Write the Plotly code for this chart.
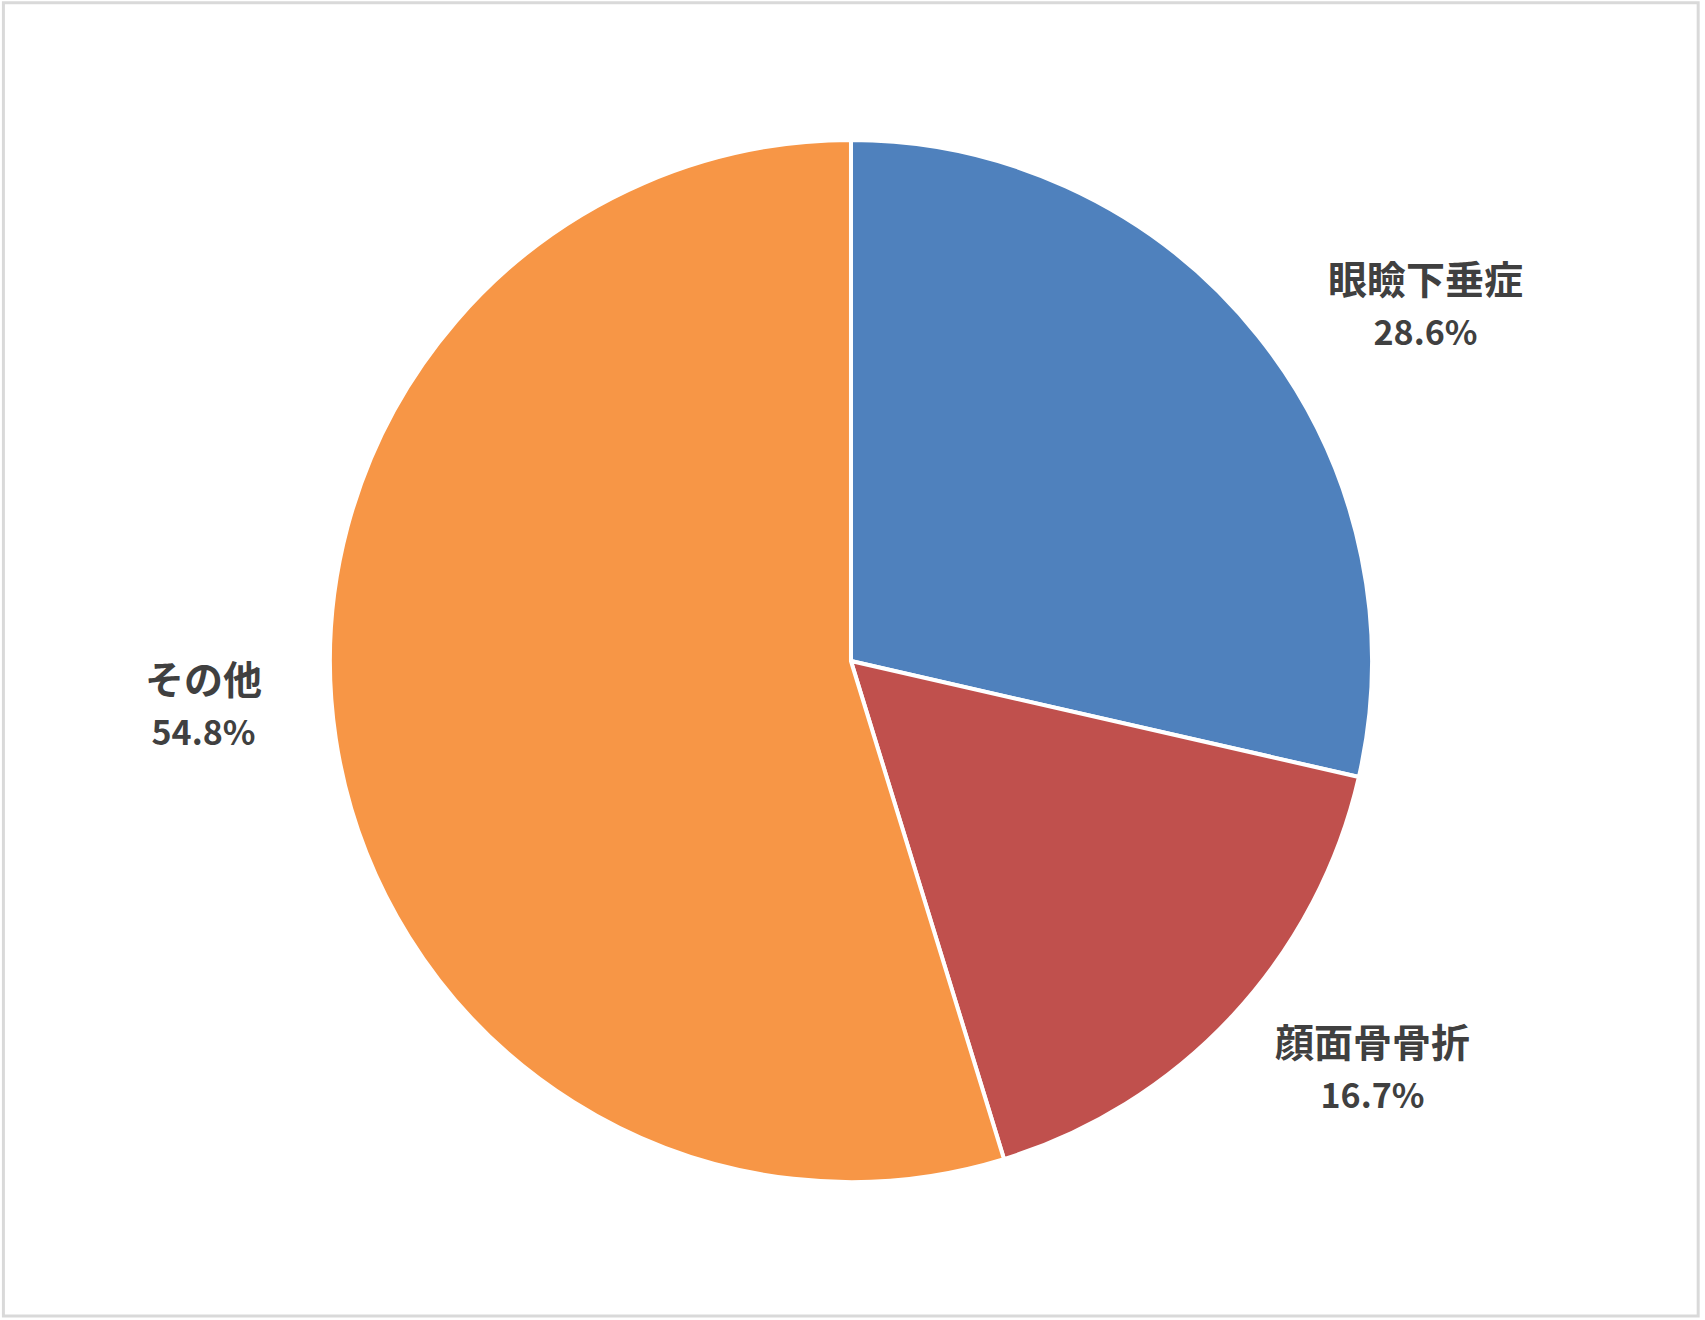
import math
import plotly.graph_objects as go

labels = ["眼瞼下垂症", "顔面骨骨折", "その他"]
values = [28.6, 16.7, 54.8]
colors = ["#4F81BD", "#C0504D", "#F79646"]

W, H = 1705, 1320
# pie domain (paper coords)
dom_x = [0.1935, 0.8047]
dom_y = [0.1045, 0.8939]
# how far out each label sits, as multiples of the radius (x, y)
label_fx = [1.41, 1.365, 1.256]
label_fy = [1.09, 1.154, 0.6]

fig = go.Figure()
fig.add_trace(go.Pie(
    labels=labels, values=values, sort=False, direction="clockwise", rotation=0,
    marker=dict(colors=colors, line=dict(color="white", width=4)),
    textinfo="none", hoverinfo="label+percent",
    domain=dict(x=dom_x, y=dom_y), showlegend=False,
))

# labels placed along each slice's mid-angle, outside the pie
cx = (dom_x[0] + dom_x[1]) / 2 * W
cy = (dom_y[0] + dom_y[1]) / 2 * H
R = min((dom_x[1] - dom_x[0]) * W, (dom_y[1] - dom_y[0]) * H) / 2
total = sum(values)
cum = 0
for lab, v, fx, fy in zip(labels, values, label_fx, label_fy):
    mid = (cum + v / 2) / total * 2 * math.pi
    cum += v
    px_ = cx + fx * R * math.sin(mid)
    py_ = cy + fy * R * math.cos(mid)
    fig.add_annotation(
        x=px_ / W, y=py_ / H, xref="paper", yref="paper", showarrow=False,
        xanchor="center", yanchor="middle", yshift=5,
        text="<b>%s</b><br><b><span style='font-size:34px'>%.1f%%</span></b>" % (lab, v),
        align="center",
        font=dict(family="Noto Sans CJK JP", size=39, color="#404040"),
    )

fig.add_shape(type="rect", xref="paper", yref="paper", x0=0.002, x1=0.996, y0=0.003, y1=0.998,
              line=dict(color="#D9D9D9", width=3))

fig.update_layout(
    width=W, height=H, margin=dict(l=0, r=0, t=0, b=0),
    paper_bgcolor="white", plot_bgcolor="white",
)
fig.write_html("out.html", config={"displayModeBar": False},
               post_script="document.body.style.margin='0';")
